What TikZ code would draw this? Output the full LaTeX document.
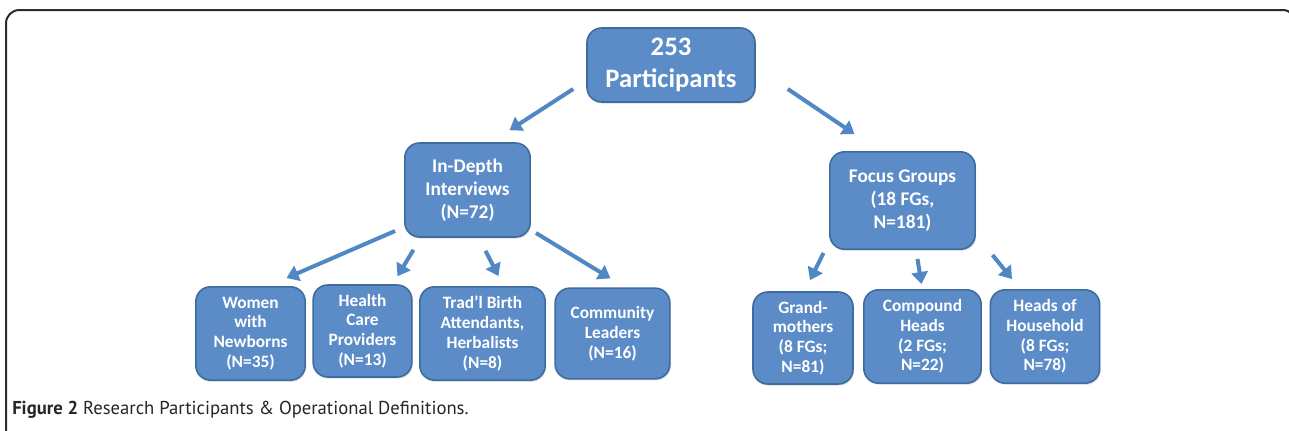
\documentclass[tikz,border=0pt]{standalone}
\usepackage{fontspec}
\setmainfont{Carlito}
\newfontfamily\capfont{PT Sans}
\usetikzlibrary{arrows.meta,calc,shadows}
\definecolor{boxfill}{HTML}{5B8CC8}
\definecolor{boxline}{HTML}{3E6C9F}
\definecolor{arrcol}{HTML}{5088C4}
\definecolor{framecol}{HTML}{2B2B2B}
\tikzset{
  box/.style={draw=boxline, line width=1.2pt, fill=boxfill, rounded corners=11pt,
    align=center, text=white, font=\bfseries, inner sep=0pt,
    drop shadow={opacity=0.25, shadow xshift=0.8pt, shadow yshift=-1.2pt}},
  topbox/.style={box, font=\bfseries\fontsize{20}{24.5}\selectfont},
  midbox/.style={box, font=\bfseries\fontsize{14.5}{17.3}\selectfont},
  lowbox/.style={box, font=\bfseries\fontsize{13}{14.8}\selectfont},
  arr/.style={draw=arrcol, line width=3pt, -{Triangle[width=12pt,length=9pt]}}
}
\begin{document}
\begin{tikzpicture}[x=0.75pt,y=-0.75pt]
\clip (0,0) rectangle (1289,430);
\fill[white] (0,0) rectangle (1289,430);
\draw[framecol, line width=1.5pt, rounded corners=10pt] (6,440) -- (6,10) -- (1296,10) -- (1296,440);

\node[topbox, minimum width=126pt, minimum height=55.5pt] (top) at (671,65) {253\\Participants};
\node[midbox, minimum width=94pt, minimum height=70.5pt] (idi) at (467.5,190) {In-Depth\\Interviews\\(N=72)};
\node[midbox, minimum width=109pt, minimum height=73pt] (fg) at (902.5,200.5) {Focus Groups\\(18 FGs,\\N=181)};

\node[lowbox, minimum width=82pt, minimum height=70pt] (women) at (250.5,333.5) {Women\\with\\Newborns\\(N=35)};
\node[lowbox, minimum width=74pt, minimum height=69pt] (health) at (362.5,331) {Health\\Care\\Providers\\(N=13)};
\node[lowbox, minimum width=94pt, minimum height=70pt] (trad) at (482.5,333.5) {Trad’l Birth\\Attendants,\\Herbalists\\(N=8)};
\node[lowbox, minimum width=86pt, minimum height=68pt] (comm) at (612.5,333.5) {Community\\Leaders\\(N=16)};
\node[lowbox, minimum width=75pt, minimum height=69pt] (grand) at (803,338) {Grand-\\mothers\\(8 FGs;\\N=81)};
\node[lowbox, minimum width=88pt, minimum height=70pt] (comp) at (922.5,336.5) {Compound\\Heads\\(2 FGs;\\N=22)};
\node[lowbox, minimum width=82pt, minimum height=70pt] (hoh) at (1045,336.5) {Heads of\\Household\\(8 FGs;\\N=78)};

\draw[arr] ($(top.west)+(-13,24)$) -- ($(idi.north)+(42,-12)$);
\draw[arr] ($(top.east)+(32,24)$) -- ($(fg.north)+(-48,-17)$);
\draw[arr] ($(idi.west)+(-9,41)$) -- ($(women.north)+(36,-8)$);
\draw[arr] ($(idi.south)+(-54,12)$) -- ($(health.north)+(35,-8)$);
\draw[arr] ($(idi.south)+(18,13)$) -- ($(trad.north)+(16,-10)$);
\draw[arr] ($(idi.east)+(5,43)$) -- ($(comm.north)+(-2,-9)$);
\draw[arr] ($(fg.south)+(-79,3)$) -- ($(grand.north)+(7,-11)$);
\draw[arr] ($(fg.south)+(15,9)$) -- ($(comp.north)+(-1,-5)$);
\draw[arr] ($(fg.south)+(90,5)$) -- ($(hoh.north)+(-33,-10)$);

\node[anchor=base west, inner sep=0pt, font=\capfont\fontsize{14}{16}\selectfont, text=black!85] (cap) at (12,414)
  {\textbf{Figure 2} Research Participants \& Operational Definitions.};
\end{tikzpicture}
\end{document}
